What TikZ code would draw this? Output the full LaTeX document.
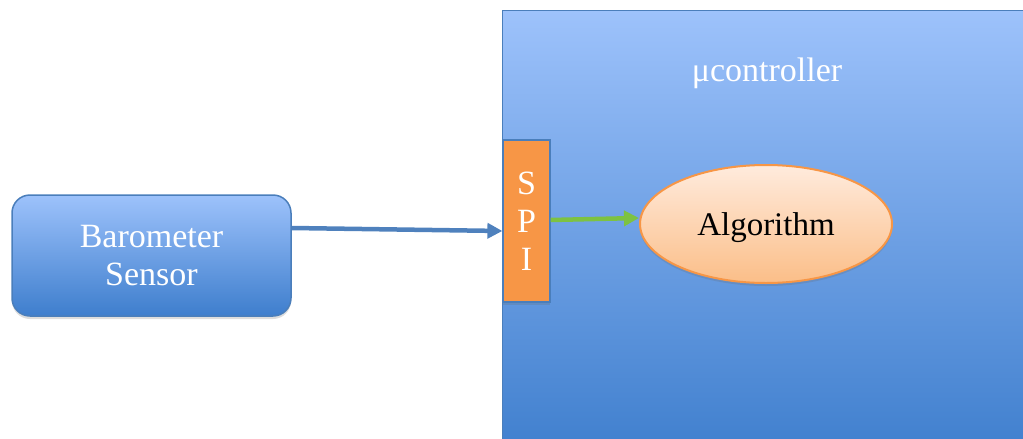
\documentclass[tikz,border=0pt]{standalone}
\usepackage{fontspec}
\setmainfont{Liberation Serif}
\usetikzlibrary{shapes.geometric,shadows,arrows.meta}

\definecolor{boxtop}{HTML}{9DC2FB}
\definecolor{boxbot}{HTML}{3E7ECD}
\definecolor{boxline}{HTML}{4A7EBB}
\definecolor{spifill}{HTML}{F79646}
\definecolor{algtop}{HTML}{FFEBDD}
\definecolor{algbot}{HTML}{FBBE88}
\definecolor{linkblue}{HTML}{4F81BD}
\definecolor{linkgreen}{HTML}{7DC242}

\tikzset{
  bigfont/.style={font=\fontsize{34}{38}\selectfont},
  softshadow/.style={drop shadow={shadow xshift=0pt, shadow yshift=-3pt, opacity=0.22, fill=black!60}},
  mcubox/.style={draw=boxline, line width=1.4pt, top color=boxtop, bottom color=boxbot,
    minimum width=560, minimum height=450, anchor=north west, inner sep=0},
  sensorbox/.style={draw=boxline, line width=1.5pt, rounded corners=18pt, top color=boxtop,
    bottom color=boxbot, minimum width=279, minimum height=121, inner sep=0,
    text=white, align=center, bigfont, text depth=0pt, softshadow},
  spibox/.style={draw=boxline, line width=1.2pt, fill=spifill, minimum width=47,
    minimum height=162, inner sep=0, text=white, align=center, bigfont, softshadow},
  algobox/.style={ellipse, draw=spifill, line width=2pt, top color=algtop, bottom color=algbot,
    minimum width=252, minimum height=118, inner sep=0, text=black,
    font=\fontsize{33}{38}\selectfont, text depth=0pt, softshadow},
  link/.style={line width=4.5pt, -{Triangle[length=15pt,width=15pt]}},
}

\begin{document}
\begin{tikzpicture}[x=1pt,y=-1pt]
  \useasboundingbox (0,0) rectangle (1023,439);
  \clip (0,0) rectangle (1023,439);

  % microcontroller body running off the page edge
  \node[mcubox] (mcu) at (502,10) {};
  \node[text=white, bigfont] (mcuname) at (767,73) {μcontroller};

  % external sensor
  \node[sensorbox] (baro) at (151.5,255.5) {Barometer\\Sensor};

  % SPI port on the controller's edge
  \node[spibox] (spi) at (526.5,221) {S\\P\\I};

  % processing block
  \node[algobox] (alg) at (766,224) {Algorithm};

  % connectors
  \draw[link, draw=linkblue] (baro.east |- 0,228) -- (spi.west |- 0,231);
  \draw[link, draw=linkgreen] (spi.east |- 0,220) -- (alg.west |- 0,218);
\end{tikzpicture}
\end{document}
